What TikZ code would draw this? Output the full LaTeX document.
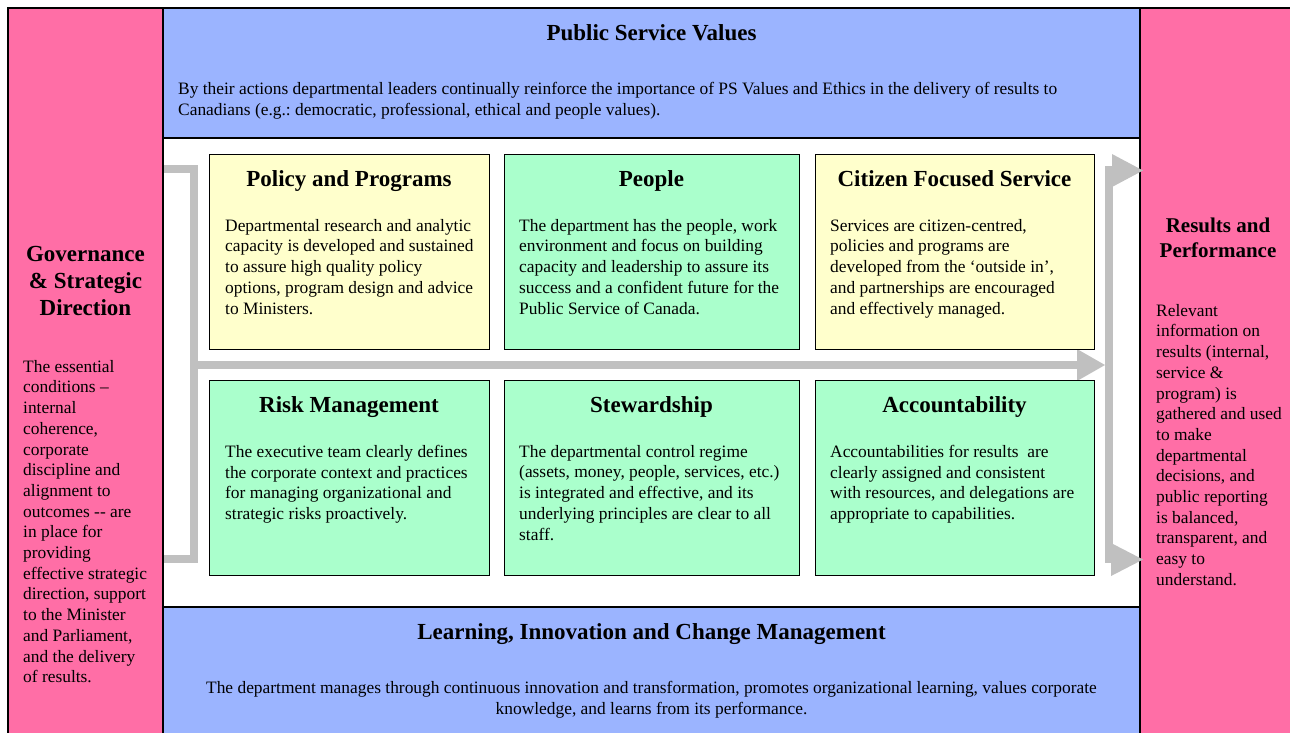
\documentclass[tikz,border=0pt]{standalone}
\usepackage{fontspec}
\setmainfont{Liberation Serif}
\frenchspacing
\definecolor{pinkP}{HTML}{FF6EA6}
\definecolor{blueP}{HTML}{9BB4FF}
\definecolor{yellowB}{HTML}{FFFFCC}
\definecolor{greenB}{HTML}{AAFFCC}
\definecolor{greyA}{HTML}{C0C0C0}
\tikzset{
  panel/.style={draw=black, line width=1.6pt},
  card/.style={draw=black, line width=1.3pt, anchor=north west, inner sep=0pt,
    minimum width=280pt, minimum height=195pt},
  wcard/.style={card, minimum width=295pt},
  ccard/.style={card, minimum width=279pt},
  headtxt/.style={font=\bfseries\fontsize{23}{27}\selectfont, inner sep=0pt, anchor=base},
  bodytxt/.style={font=\fontsize{17.4}{20.7}\selectfont, inner sep=0pt, align=left, anchor=north west},
  bar/.style={draw=greyA, line width=8pt},
  tip/.style={fill=greyA}
}
\begin{document}
\begin{tikzpicture}[x=1pt,y=-1pt]
\useasboundingbox (0,0) rectangle (1290,732);
% panels
\fill[white] (0,0) rectangle (1290,732);
\draw[panel, fill=white] (163,138) rectangle (1140,607);
\draw[panel, fill=blueP] (163,8) rectangle (1140,138);
\draw[panel, fill=blueP] (163,607) rectangle (1140,745);
\draw[panel, fill=pinkP] (8,8) rectangle (163,745);
\draw[panel, fill=pinkP] (1140,8) rectangle (1300,745);
% grey bracket and arrows
\coordinate (bl1) at (164,169);
\coordinate (bc1) at (194,169);
\coordinate (bc2) at (194,559);
\coordinate (bl2) at (164,559);
\draw[bar] (bl1) -- (bc1) -- (bc2) -- (bl2);
\coordinate (ms) at (194,365);
\coordinate (me) at (1079,365);
\draw[bar] (ms) -- (me);
\fill[tip] (1077,349) -- (1105,365) -- (1077,381) -- cycle;
\coordinate (rt) at (1109,166);
\coordinate (rb) at (1109,563);
\draw[bar] (rt) -- (rb);
\draw[bar] (1105,170) -- (1113,170);
\fill[tip] (1112,154) -- (1143,170.5) -- (1112,187) -- cycle;
\draw[bar] (1105,559) -- (1112,559);
\fill[tip] (1111,543) -- (1143,559.5) -- (1111,576) -- cycle;
% cards
\node[card, fill=yellowB] (pp) at (209,154) {};
\node[wcard, fill=greenB] (pe) at (504,154) {};
\node[ccard, fill=yellowB] (cf) at (815,154) {};
\node[card, fill=greenB] (rm) at (209,380) {};
\node[wcard, fill=greenB] (st) at (504,380) {};
\node[ccard, fill=greenB] (ac) at (815,380) {};
% headings
\node[headtxt] (hpsv) at (651.5,40) {Public Service Values};
\node[headtxt] (hlic) at (651.5,639) {Learning, Innovation and Change Management};
\node[headtxt] (hpp) at (349,186) {Policy and Programs};
\node[headtxt] (hpe) at (651.5,186) {People};
\node[headtxt] (hcf) at (954.5,186) {Citizen Focused Service};
\node[headtxt] (hrm) at (349,412) {Risk Management};
\node[headtxt] (hst) at (651.5,412) {Stewardship};
\node[headtxt] (hac) at (954.5,412) {Accountability};
\node[headtxt, anchor=north, align=center] (hgov) at (85.5,246) {Governance\\\& Strategic\\Direction};
\node[headtxt, anchor=north, align=center, font=\bfseries\fontsize{21}{25}\selectfont] (hres) at (1218,218) {Results and\\Performance};
% body texts
\node[bodytxt] (tpsv) at (178,82) {By their actions departmental leaders continually reinforce the importance of PS Values and Ethics in the delivery of results to\\Canadians (e.g.: democratic, professional, ethical and people values).};
\node[bodytxt, align=center, anchor=north] (tlic) at (651.5,681) {The department manages through continuous innovation and transformation, promotes organizational learning, values corporate\\knowledge, and learns from its performance.};
\node[bodytxt] (tpp) at (225,219) {Departmental research and analytic\\capacity is developed and sustained\\to assure high quality policy\\options, program design and advice\\to Ministers.};
\node[bodytxt] (tpe) at (519,219) {The department has the people, work\\environment and focus on building\\capacity and leadership to assure its\\success and a confident future for the\\Public Service of Canada.};
\node[bodytxt] (tcf) at (830,219) {Services are citizen-centred,\\policies and programs are\\developed from the ‘outside in’,\\and partnerships are encouraged\\and effectively managed.};
\node[bodytxt] (trm) at (225,445) {The executive team clearly defines\\the corporate context and practices\\for managing organizational and\\strategic risks proactively.};
\node[bodytxt] (tst) at (519,445) {The departmental control regime\\(assets, money, people, services, etc.)\\is integrated and effective, and its\\underlying principles are clear to all\\staff.};
\node[bodytxt] (tac) at (830,445) {Accountabilities for results\ \ are\\clearly assigned and consistent\\with resources, and delegations are\\appropriate to capabilities.};
\node[bodytxt] (tgov) at (23,360) {The essential\\conditions –\\internal\\coherence,\\corporate\\discipline and\\alignment to\\outcomes -{}- are\\in place for\\providing\\effective strategic\\direction, support\\to the Minister\\and Parliament,\\and the delivery\\of results.};
\node[bodytxt] (tres) at (1156,304) {Relevant\\information on\\results (internal,\\service \&\\program) is\\gathered and used\\to make\\departmental\\decisions, and\\public reporting\\is balanced,\\transparent, and\\easy to\\understand.};
\end{tikzpicture}
\end{document}
